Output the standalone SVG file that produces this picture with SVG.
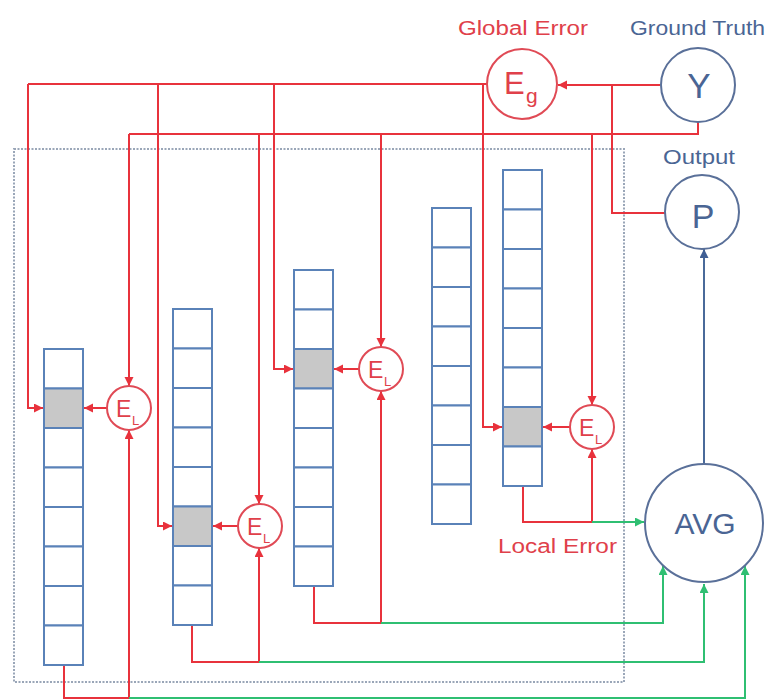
<svg xmlns="http://www.w3.org/2000/svg" width="772" height="700" viewBox="0 0 772 700">
<defs>
<marker id="ar" markerUnits="userSpaceOnUse" markerWidth="10" markerHeight="10" refX="9" refY="4.5" orient="auto"><path d="M0,0 L9,4.5 L0,9 z" fill="#e8323c"/></marker>
<marker id="ag" markerUnits="userSpaceOnUse" markerWidth="10" markerHeight="10" refX="9" refY="4.5" orient="auto"><path d="M0,0 L9,4.5 L0,9 z" fill="#2fbf72"/></marker>
<marker id="ab" markerUnits="userSpaceOnUse" markerWidth="10" markerHeight="10" refX="9" refY="4.5" orient="auto"><path d="M0,0 L9,4.5 L0,9 z" fill="#3f5f94"/></marker>
</defs>
<style>
.cell{fill:#fff;stroke:#5a82b8;stroke-width:2}
.gray{fill:#c8c8c8;stroke:#5a82b8;stroke-width:2}
.red{fill:none;stroke:#e8323c;stroke-width:2}
.ra{fill:none;stroke:#e8323c;stroke-width:2;marker-end:url(#ar)}
.ga{fill:none;stroke:#2fbf72;stroke-width:2;marker-end:url(#ag)}
.ba{fill:none;stroke:#4a6a9a;stroke-width:2;marker-end:url(#ab)}
.rc{fill:#fff;stroke:#e04a55;stroke-width:2}
.bc{fill:#fff;stroke:#5a7099;stroke-width:2}
text{font-family:"Liberation Sans",Arial,sans-serif}
.rt{fill:#e0404a}
.bt{fill:#4a6594}
</style>
<rect x="14" y="149" width="610" height="533" fill="none" stroke="#9aa6b8" stroke-width="2" stroke-dasharray="2,1.5"/>

<g id="connectors">
<path class="red" d="M487 84 H28"/>
<path class="ra" d="M28 84 V408 H43"/>
<path class="ra" d="M158 84 V526 H172"/>
<path class="ra" d="M274 84 V369 H293"/>
<path class="ra" d="M483 84 V427 H502"/>
<path class="red" d="M698 122 V134 H129"/>
<path class="ra" d="M129 134 V386"/>
<path class="ra" d="M259 134 V504"/>
<path class="ra" d="M381 134 V347"/>
<path class="ra" d="M592 134 V405"/>
<path class="ra" d="M660 85 H558"/>
<path class="red" d="M612 85 V213 H665"/>
<path class="ra" d="M107 408 H84"/>
<path class="ra" d="M238 526 H213"/>
<path class="ra" d="M359 369 H334"/>
<path class="ra" d="M570 427 H543"/>
<path class="red" d="M64 665 V698 H129"/>
<path class="ra" d="M129 698 V430"/>
<path class="red" d="M192 625 V662 H259"/>
<path class="ra" d="M259 662 V548"/>
<path class="red" d="M314 586 V623 H381"/>
<path class="ra" d="M381 623 V391"/>
<path class="red" d="M523 486 V522 H592"/>
<path class="ra" d="M592 522 V449"/>
<path class="ga" d="M129 698 H745 V566"/>
<path class="ga" d="M259 662 H704 V584"/>
<path class="ga" d="M381 623 H663 V566"/>
<path class="ga" d="M592 522 H644"/>
<path class="ba" d="M704 464 V249"/>
</g>

<g id="col1">
<rect class="cell" x="44" y="349" width="39" height="39.5"/>
<rect class="gray" x="44" y="388.5" width="39" height="39.5"/>
<rect class="cell" x="44" y="428" width="39" height="39.5"/>
<rect class="cell" x="44" y="467.5" width="39" height="39.5"/>
<rect class="cell" x="44" y="507" width="39" height="39.5"/>
<rect class="cell" x="44" y="546.5" width="39" height="39.5"/>
<rect class="cell" x="44" y="586" width="39" height="39.5"/>
<rect class="cell" x="44" y="625.5" width="39" height="39.5"/>
</g>
<g id="col2">
<rect class="cell" x="173" y="309" width="39" height="39.5"/>
<rect class="cell" x="173" y="348.5" width="39" height="39.5"/>
<rect class="cell" x="173" y="388" width="39" height="39.5"/>
<rect class="cell" x="173" y="427.5" width="39" height="39.5"/>
<rect class="cell" x="173" y="467" width="39" height="39.5"/>
<rect class="gray" x="173" y="506.5" width="39" height="39.5"/>
<rect class="cell" x="173" y="546" width="39" height="39.5"/>
<rect class="cell" x="173" y="585.5" width="39" height="39.5"/>
</g>
<g id="col3">
<rect class="cell" x="294" y="270" width="39" height="39.5"/>
<rect class="cell" x="294" y="309.5" width="39" height="39.5"/>
<rect class="gray" x="294" y="349" width="39" height="39.5"/>
<rect class="cell" x="294" y="388.5" width="39" height="39.5"/>
<rect class="cell" x="294" y="428" width="39" height="39.5"/>
<rect class="cell" x="294" y="467.5" width="39" height="39.5"/>
<rect class="cell" x="294" y="507" width="39" height="39.5"/>
<rect class="cell" x="294" y="546.5" width="39" height="39.5"/>
</g>
<g id="col4">
<rect class="cell" x="432" y="208" width="39" height="39.5"/>
<rect class="cell" x="432" y="247.5" width="39" height="39.5"/>
<rect class="cell" x="432" y="287" width="39" height="39.5"/>
<rect class="cell" x="432" y="326.5" width="39" height="39.5"/>
<rect class="cell" x="432" y="366" width="39" height="39.5"/>
<rect class="cell" x="432" y="405.5" width="39" height="39.5"/>
<rect class="cell" x="432" y="445" width="39" height="39.5"/>
<rect class="cell" x="432" y="484.5" width="39" height="39.5"/>
</g>
<g id="col5">
<rect class="cell" x="503" y="170" width="39" height="39.5"/>
<rect class="cell" x="503" y="209.5" width="39" height="39.5"/>
<rect class="cell" x="503" y="249" width="39" height="39.5"/>
<rect class="cell" x="503" y="288.5" width="39" height="39.5"/>
<rect class="cell" x="503" y="328" width="39" height="39.5"/>
<rect class="cell" x="503" y="367.5" width="39" height="39.5"/>
<rect class="gray" x="503" y="407" width="39" height="39.5"/>
<rect class="cell" x="503" y="446.5" width="39" height="39.5"/>
</g>

<g id="el1"><circle class="rc" cx="129" cy="408" r="22"/><text class="rt" x="116" y="417" font-size="23">E</text><text class="rt" x="132" y="425" font-size="13">L</text></g>
<g id="el2"><circle class="rc" cx="260" cy="526" r="22"/><text class="rt" x="247" y="535" font-size="23">E</text><text class="rt" x="263" y="543" font-size="13">L</text></g>
<g id="el3"><circle class="rc" cx="381" cy="369" r="22"/><text class="rt" x="368" y="378" font-size="23">E</text><text class="rt" x="384" y="386" font-size="13">L</text></g>
<g id="el4"><circle class="rc" cx="592" cy="427" r="22"/><text class="rt" x="579" y="436" font-size="23">E</text><text class="rt" x="595" y="444" font-size="13">L</text></g>

<g id="eg"><circle class="rc" cx="522" cy="84" r="35"/><text class="rt" x="504" y="94" font-size="31">E</text><text class="rt" x="526" y="103" font-size="21">g</text>
<text class="rt" x="458" y="35" font-size="20" textLength="130" lengthAdjust="spacingAndGlyphs">Global Error</text></g>
<g id="y"><circle class="bc" cx="698" cy="85" r="37"/><text class="bt" x="699" y="98" font-size="35" text-anchor="middle">Y</text>
<text class="bt" x="630" y="35" font-size="20" textLength="135" lengthAdjust="spacingAndGlyphs">Ground Truth</text></g>
<g id="p"><circle class="bc" cx="702" cy="212" r="37"/><text class="bt" x="703" y="228" font-size="34" text-anchor="middle">P</text>
<text class="bt" x="663" y="164" font-size="20" textLength="72" lengthAdjust="spacingAndGlyphs">Output</text></g>
<g id="avg"><circle class="bc" cx="704" cy="523" r="59"/><text class="bt" x="705" y="534" font-size="30" text-anchor="middle">AVG</text></g>
<g id="local-error"><text class="rt" x="498" y="553" font-size="20" textLength="119" lengthAdjust="spacingAndGlyphs">Local Error</text></g>
</svg>
